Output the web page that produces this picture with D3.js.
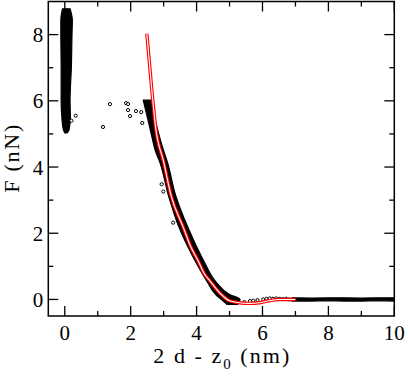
<!DOCTYPE html>
<html>
<head>
<meta charset="utf-8">
<script src="https://cdn.jsdelivr.net/npm/d3@7"></script>
<style>
    body { margin: 0; background: #fff; }
</style>
</head>
<body>
<div id="chart"></div>
<script>
// axis ticks
var xTicks = [0, 2, 4, 6, 8, 10];
var xMinorTicks = [1, 3, 5, 7, 9];
var yTicks = [0, 2, 4, 6, 8];
var yMinorTicks = [1, 3, 5, 7];

// fitted force curve (red)
var fitX = [2.49, 2.63, 2.76, 3.00, 3.22, 3.60, 3.82, 4.06, 4.22, 4.42, 4.72, 5.00, 5.30, 5.60, 5.90, 6.20, 6.50, 7.00];
var fitF = [8.03, 6.45, 5.18, 4.16, 3.16, 2.17, 1.60, 1.14, 0.80, 0.54, 0.18, -0.04, -0.10, -0.12, -0.10, -0.04, 0.00, 0.00];

// measured data, dense part of the approach branch: force and x extent at that force
var bandF = [6.02, 5.57, 4.97, 4.46, 4.16, 3.16, 2.17, 1.14, 0.54, 0.15, 0.00, -0.15];
var bandLeft = [2.38, 2.49, 2.63, 2.76, 2.88, 3.14, 3.47, 3.97, 4.32, 4.58, 4.75, 4.92];
var bandRight = [2.67, 2.72, 2.86, 3.01, 3.11, 3.36, 3.74, 4.23, 4.58, 5.00, 5.32, 5.24];

// measured data, contact cluster near zero
var clusterF = [8.78, 8.43, 8.04, 7.03, 6.02, 5.52, 5.12, 5.03];
var clusterLeft = [-0.07, -0.12, -0.12, -0.11, -0.11, -0.09, -0.04, 0.00];
var clusterRight = [0.16, 0.23, 0.22, 0.20, 0.16, 0.17, 0.13, 0.07];

// measured data, baseline far from contact
var flatX = [6.90, 7.50, 8.00, 8.50, 9.00, 9.50, 10.00];
var flatLow = [-0.05, -0.05, -0.04, -0.05, -0.05, -0.04, -0.05];
var flatHigh = [0.05, 0.04, 0.05, 0.05, 0.04, 0.05, 0.05];

// isolated measured points
var strayX = [0.33, 0.20, 1.16, 1.37, 1.86, 1.92, 1.92, 1.98, 2.16, 2.32, 2.35, 2.94, 2.99, 3.29,
    5.45, 5.62, 5.72, 5.85, 6.02, 6.12, 6.22, 6.32, 6.42, 6.52, 6.62, 6.72, 6.82];
var strayF = [5.55, 5.40, 5.21, 5.90, 5.93, 5.90, 5.72, 5.54, 5.69, 5.66, 5.33, 3.48, 3.26, 2.32,
    -0.08, -0.05, -0.04, -0.02, 0.00, 0.02, 0.03, 0.02, 0.03, 0.02, 0.01, 0.02, 0.00];

// pick the first serif face that is really installed (width differs from the monospace fallback)
function pickFont(candidates) {
    var ctx = document.createElement('canvas').getContext('2d');
    var sample = 'F (nN) 2 d - z 0123456789';
    ctx.font = '40px monospace';
    var base = ctx.measureText(sample).width;
    for (let i = 0; i < candidates.length; i++) {
        ctx.font = '40px "' + candidates[i] + '", monospace';
        if (Math.abs(ctx.measureText(sample).width - base) > 0.5) {
            return '"' + candidates[i] + '"';
        }
    }
    return '"Liberation Sans", sans-serif';
}

var config = {
    width: 409,
    height: 377,
    margin: { left: 48.3, right: 14.7, top: 1.5, bottom: 61 },
    font: pickFont(['Liberation Serif', 'Times New Roman', 'Tinos', 'DejaVu Serif', 'Noto Serif', 'FreeSerif', 'Nimbus Roman'])
};
var width = config.width - config.margin.left - config.margin.right;
var height = config.height - config.margin.top - config.margin.bottom;

var x = d3.scaleLinear().domain([-0.5, 10]).range([0, width]);
var y = d3.scaleLinear().domain([-0.5, 9]).range([height, 0]);

var svg = d3
    .select('#chart')
    .append('svg')
    .attr('width', config.width)
    .attr('height', config.height)
    .append('g')
    .attr('transform', 'translate(' + config.margin.left + ',' + config.margin.top + ')');

// dense data drawn as filled envelopes
var bandRows = bandF.map(function (f, i) { return { f: f, l: bandLeft[i], r: bandRight[i] }; });
var clusterRows = clusterF.map(function (f, i) { return { f: f, l: clusterLeft[i], r: clusterRight[i] }; });
var flatRows = flatX.map(function (v, i) { return { x: v, lo: flatLow[i], hi: flatHigh[i] }; });

var vArea = d3.area()
    .y(function (d) { return y(d.f); })
    .x0(function (d) { return x(d.l); })
    .x1(function (d) { return x(d.r); })
    .curve(d3.curveMonotoneY);

var hArea = d3.area()
    .x(function (d) { return x(d.x); })
    .y0(function (d) { return y(d.lo); })
    .y1(function (d) { return y(d.hi); });

[bandRows, clusterRows].forEach(function (rows) {
    svg.append('path')
        .datum(rows)
        .attr('d', vArea)
        .attr('fill', '#000')
        .attr('stroke', '#000')
        .attr('stroke-width', 1.2)
        .attr('stroke-linejoin', 'round');
});

svg.append('path')
    .datum(flatRows)
    .attr('d', hArea)
    .attr('fill', '#000')
    .attr('stroke', '#000')
    .attr('stroke-width', 1.2);

// open circles
svg.selectAll('.stray')
    .data(strayX.map(function (v, i) { return [v, strayF[i]]; }))
    .enter()
    .append('circle')
    .attr('class', 'stray')
    .attr('cx', function (d) { return x(d[0]); })
    .attr('cy', function (d) { return y(d[1]); })
    .attr('r', 1.6)
    .attr('fill', '#fff')
    .attr('stroke', '#000')
    .attr('stroke-width', 1);

// fit curve: red double line
var fitLine = d3.line()
    .x(function (d) { return x(d[0]); })
    .y(function (d) { return y(d[1]); })
    .curve(d3.curveMonotoneX);
var fitData = fitX.map(function (v, i) { return [v, fitF[i]]; });

svg.append('path')
    .datum(fitData)
    .attr('d', fitLine)
    .attr('fill', 'none')
    .attr('stroke', '#ff0000')
    .attr('stroke-width', 3.4);
svg.append('path')
    .datum(fitData)
    .attr('d', fitLine)
    .attr('fill', 'none')
    .attr('stroke', '#fff')
    .attr('stroke-width', 1.1);

// frame
svg.append('rect')
    .attr('width', width)
    .attr('height', height)
    .attr('fill', 'none')
    .attr('stroke', '#000')
    .attr('stroke-width', 1.5);

// ticks on all four sides, pointing inward
var tickG = svg.append('g').attr('stroke', '#000').attr('stroke-width', 1.3);
function addTicks(vals, len) {
    vals.forEach(function (v) {
        tickG.append('line').attr('x1', x(v)).attr('x2', x(v)).attr('y1', height).attr('y2', height - len);
        tickG.append('line').attr('x1', x(v)).attr('x2', x(v)).attr('y1', 0).attr('y2', len);
    });
}
function addYTicks(vals, len) {
    vals.forEach(function (v) {
        tickG.append('line').attr('y1', y(v)).attr('y2', y(v)).attr('x1', 0).attr('x2', len);
        tickG.append('line').attr('y1', y(v)).attr('y2', y(v)).attr('x1', width).attr('x2', width - len);
    });
}
addTicks(xTicks, 10);
addTicks(xMinorTicks, 5);
addYTicks(yTicks, 10);
addYTicks(yMinorTicks, 5);

// tick labels
svg.selectAll('.xlabel')
    .data(xTicks)
    .enter()
    .append('text')
    .attr('class', 'xlabel')
    .attr('x', function (d) { return x(d); })
    .attr('y', height + 23.5)
    .attr('text-anchor', 'middle')
    .style('font-family', config.font)
    .style('font-size', '21px')
    .text(function (d) { return d; });

svg.selectAll('.ylabel')
    .data(yTicks)
    .enter()
    .append('text')
    .attr('class', 'ylabel')
    .attr('x', -5)
    .attr('y', function (d) { return y(d) + 7.5; })
    .attr('text-anchor', 'end')
    .style('font-family', config.font)
    .style('font-size', '21px')
    .text(function (d) { return d; });

// axes labels, stretched to the width of the original lettering
var xl = svg.append('text')
    .attr('x', width / 2 - 68)
    .attr('y', height + 46.5)
    .attr('textLength', 136)
    .attr('lengthAdjust', 'spacing')
    .style('font-family', config.font)
    .style('font-size', '22px');
xl.append('tspan').text('2 d - z');
xl.append('tspan').style('font-size', '15px').attr('dy', 6).text('0');
xl.append('tspan').attr('dy', -6).text(' (nm)');

svg.append('text')
    .attr('transform', 'rotate(-90)')
    .attr('x', -height / 2 - 34)
    .attr('y', -config.margin.left + 19)
    .attr('textLength', 68)
    .attr('lengthAdjust', 'spacing')
    .style('font-family', config.font)
    .style('font-size', '22px')
    .text('F (nN)');
</script>
</body>
</html>
